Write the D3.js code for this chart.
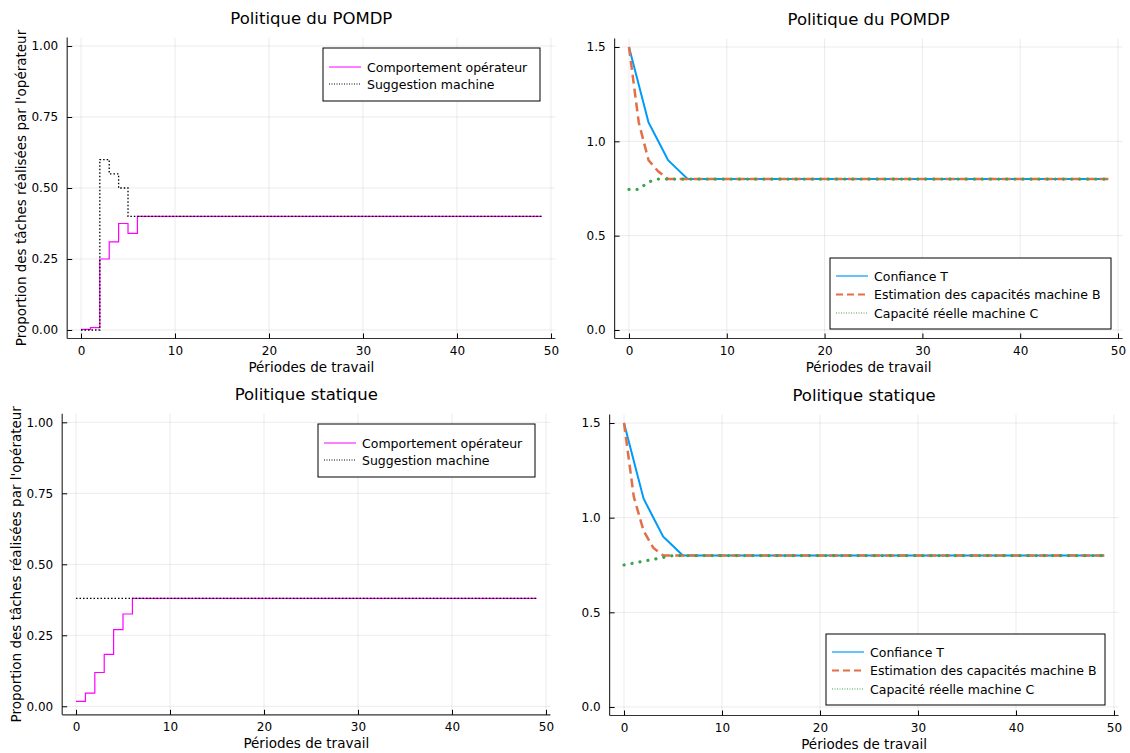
<!DOCTYPE html>
<html>
<head>
<meta charset="utf-8">
<script src="https://cdn.jsdelivr.net/npm/d3@7"></script>
<style>
  body { margin: 0; background: #fff; }
  svg { font-family: "DejaVu Sans", sans-serif; }
</style>
</head>
<body>
<div class="chart"></div>
<script>
// periods 0..49
var periods = [0,1,2,3,4,5,6,7,8,9,10,11,12,13,14,15,16,17,18,19,20,21,22,23,24,
  25,26,27,28,29,30,31,32,33,34,35,36,37,38,39,40,41,42,43,44,45,46,47,48,49];

// POMDP policy: operator behaviour and machine suggestion
var pomdpOperator = [0.002,0.008,0.25,0.31,0.375,0.34,0.4,0.4,0.4,0.4,0.4,0.4,0.4,0.4,0.4,0.4,0.4,0.4,0.4,0.4,
  0.4,0.4,0.4,0.4,0.4,0.4,0.4,0.4,0.4,0.4,0.4,0.4,0.4,0.4,0.4,0.4,0.4,0.4,0.4,0.4,0.4,0.4,0.4,0.4,0.4,0.4,0.4,0.4,0.4,0.4];
var pomdpSuggestion = [0,0,0.6,0.55,0.5,0.4,0.4,0.4,0.4,0.4,0.4,0.4,0.4,0.4,0.4,0.4,0.4,0.4,0.4,0.4,
  0.4,0.4,0.4,0.4,0.4,0.4,0.4,0.4,0.4,0.4,0.4,0.4,0.4,0.4,0.4,0.4,0.4,0.4,0.4,0.4,0.4,0.4,0.4,0.4,0.4,0.4,0.4,0.4,0.4,0.4];

// static policy
var staticOperator = [0.017,0.046,0.119,0.183,0.27,0.325,0.38,0.38,0.38,0.38,0.38,0.38,0.38,0.38,0.38,0.38,0.38,0.38,0.38,0.38,
  0.38,0.38,0.38,0.38,0.38,0.38,0.38,0.38,0.38,0.38,0.38,0.38,0.38,0.38,0.38,0.38,0.38,0.38,0.38,0.38,0.38,0.38,0.38,0.38,0.38,0.38,0.38,0.38,0.38,0.38];
var staticSuggestion = [0.38,0.38,0.38,0.38,0.38,0.38,0.38,0.38,0.38,0.38,0.38,0.38,0.38,0.38,0.38,0.38,0.38,0.38,0.38,0.38,
  0.38,0.38,0.38,0.38,0.38,0.38,0.38,0.38,0.38,0.38,0.38,0.38,0.38,0.38,0.38,0.38,0.38,0.38,0.38,0.38,0.38,0.38,0.38,0.38,0.38,0.38,0.38,0.38,0.38,0.38];

// trust T, estimated capacity B, real capacity C
var pomdpTrust = [1.5,1.3,1.1,1.0,0.9,0.85,0.8,0.8,0.8,0.8,0.8,0.8,0.8,0.8,0.8,0.8,0.8,0.8,0.8,0.8,
  0.8,0.8,0.8,0.8,0.8,0.8,0.8,0.8,0.8,0.8,0.8,0.8,0.8,0.8,0.8,0.8,0.8,0.8,0.8,0.8,0.8,0.8,0.8,0.8,0.8,0.8,0.8,0.8,0.8,0.8];
var pomdpEstim = [1.5,1.1,0.9,0.84,0.8,0.8,0.8,0.8,0.8,0.8,0.8,0.8,0.8,0.8,0.8,0.8,0.8,0.8,0.8,0.8,
  0.8,0.8,0.8,0.8,0.8,0.8,0.8,0.8,0.8,0.8,0.8,0.8,0.8,0.8,0.8,0.8,0.8,0.8,0.8,0.8,0.8,0.8,0.8,0.8,0.8,0.8,0.8,0.8,0.8,0.8];
var pomdpReal = [0.745,0.745,0.785,0.8,0.8,0.8,0.8,0.8,0.8,0.8,0.8,0.8,0.8,0.8,0.8,0.8,0.8,0.8,0.8,0.8,
  0.8,0.8,0.8,0.8,0.8,0.8,0.8,0.8,0.8,0.8,0.8,0.8,0.8,0.8,0.8,0.8,0.8,0.8,0.8,0.8,0.8,0.8,0.8,0.8,0.8,0.8,0.8,0.8,0.8,0.8];
var staticTrust = [1.5,1.3,1.1,1.0,0.9,0.85,0.8,0.8,0.8,0.8,0.8,0.8,0.8,0.8,0.8,0.8,0.8,0.8,0.8,0.8,
  0.8,0.8,0.8,0.8,0.8,0.8,0.8,0.8,0.8,0.8,0.8,0.8,0.8,0.8,0.8,0.8,0.8,0.8,0.8,0.8,0.8,0.8,0.8,0.8,0.8,0.8,0.8,0.8,0.8,0.8];
var staticEstim = [1.5,1.11,0.93,0.84,0.8,0.8,0.8,0.8,0.8,0.8,0.8,0.8,0.8,0.8,0.8,0.8,0.8,0.8,0.8,0.8,
  0.8,0.8,0.8,0.8,0.8,0.8,0.8,0.8,0.8,0.8,0.8,0.8,0.8,0.8,0.8,0.8,0.8,0.8,0.8,0.8,0.8,0.8,0.8,0.8,0.8,0.8,0.8,0.8,0.8,0.8];
var staticReal = [0.75,0.76,0.77,0.78,0.79,0.8,0.8,0.8,0.8,0.8,0.8,0.8,0.8,0.8,0.8,0.8,0.8,0.8,0.8,0.8,
  0.8,0.8,0.8,0.8,0.8,0.8,0.8,0.8,0.8,0.8,0.8,0.8,0.8,0.8,0.8,0.8,0.8,0.8,0.8,0.8,0.8,0.8,0.8,0.8,0.8,0.8,0.8,0.8,0.8,0.8];

var xTicks = [0,10,20,30,40,50];
var propTicks = [0,0.25,0.5,0.75,1];
var capTicks = [0,0.5,1,1.5];

var titles = ["Politique du POMDP", "Politique statique"];
var xLabel = "Périodes de travail";
var yLabel = "Proportion des tâches réalisées par l'opérateur";
var propNames = ["Comportement opérateur", "Suggestion machine"];
var capNames = ["Confiance T", "Estimation des capacités machine B", "Capacité réelle machine C"];

var svg = d3.select("div.chart").append("svg")
  .attr("width", 1130).attr("height", 753);

function drawPanel(p) {
  var x = d3.scaleLinear().domain([-1.47, 50.47]).range([p.left, p.right]);
  var y = d3.scaleLinear().domain(p.ydom).range([p.bottom, p.top]);
  var g = svg.append("g");

  // grid
  g.selectAll(".gx").data(xTicks).enter().append("line")
    .attr("x1", d => x(d)).attr("x2", d => x(d))
    .attr("y1", p.top).attr("y2", p.bottom)
    .attr("stroke", "#000").attr("stroke-opacity", 0.1).attr("stroke-width", 0.8);
  g.selectAll(".gy").data(p.yticks).enter().append("line")
    .attr("x1", p.left).attr("x2", p.right)
    .attr("y1", d => y(d)).attr("y2", d => y(d))
    .attr("stroke", "#000").attr("stroke-opacity", 0.1).attr("stroke-width", 0.8);

  // series
  p.series.forEach(function(s) {
    var line = d3.line().x((d, i) => x(periods[i])).y(d => y(d));
    if (s.step) line.curve(d3.curveStepAfter);
    g.append("path").datum(s.values)
      .attr("d", line).attr("fill", "none")
      .attr("stroke", s.color).attr("stroke-width", s.width)
      .attr("stroke-dasharray", s.dash || null)
      .attr("stroke-linecap", s.cap || "butt");
  });

  // axes (inward ticks)
  var xa = d3.axisBottom(x).tickValues(xTicks).tickSize(-5).tickPadding(8).tickFormat(d3.format("d"));
  var ya = d3.axisLeft(y).tickValues(p.yticks).tickSize(-5).tickPadding(9).tickFormat(d3.format(p.yfmt));
  var gx = g.append("g").attr("transform", "translate(0," + p.bottom + ")").call(xa);
  var gy = g.append("g").attr("transform", "translate(" + p.left + ",0)").call(ya);
  [gx, gy].forEach(function(a) {
    a.select(".domain").attr("d", a === gx ? "M" + p.left + ",0H" + p.right : "M0," + p.top + "V" + p.bottom)
      .attr("stroke", "#333").attr("stroke-width", 1.2);
    a.selectAll(".tick line").attr("stroke", "#000");
    a.selectAll(".tick text").attr("fill", "#000").attr("font-size", 12).attr("font-family", "DejaVu Sans");
  });

  // title & labels
  svg.append("text").attr("x", (p.left + p.right) / 2).attr("y", p.top - 14)
    .attr("text-anchor", "middle").attr("font-size", 16.5).text(p.title);
  svg.append("text").attr("x", (p.left + p.right) / 2).attr("y", p.bottom + 33)
    .attr("text-anchor", "middle").attr("font-size", 13.5).text(xLabel);
  if (p.ylab) {
    svg.append("text").attr("transform", "translate(" + p.ylabX + "," + (p.top + p.bottom) / 2 + ") rotate(-90)")
      .attr("text-anchor", "middle").attr("font-size", 13.5).text(yLabel);
  }

  // legend
  var L = p.legend;
  svg.append("rect").attr("x", L.x).attr("y", L.y).attr("width", L.w).attr("height", L.h)
    .attr("fill", "#fff").attr("stroke", "#000").attr("stroke-width", 1);
  p.series.forEach(function(s, i) {
    var ly = L.y + L.first + i * L.step;
    svg.append("line").attr("x1", L.x + 6).attr("x2", L.x + 38).attr("y1", ly).attr("y2", ly)
      .attr("stroke", s.color).attr("stroke-width", s.lw)
      .attr("stroke-dasharray", s.ldash || null);
    svg.append("text").attr("x", L.x + 44).attr("y", ly + 4.5)
      .attr("font-size", 12.5).text(s.name);
  });
}

function propSeries(op, sug) {
  return [
    {name: propNames[0], values: op, color: "#ff00ff", width: 1.2, step: true, lw: 1},
    {name: propNames[1], values: sug, color: "#000", width: 1.3, step: true, dash: "1.5,2", lw: 1, ldash: "1,1.5"}
  ];
}
function capSeries(t, b, c) {
  return [
    {name: capNames[0], values: t, color: "#009af9", width: 2, lw: 1.2},
    {name: capNames[1], values: b, color: "#e26f46", width: 2.5, dash: "9,5", lw: 2, ldash: "7,4"},
    {name: capNames[2], values: c, color: "#3da44d", width: 3.2, dash: "0.1,8", cap: "round", lw: 1, ldash: "1,1.5"}
  ];
}

drawPanel({left: 67.2, right: 555.4, top: 37.5, bottom: 338.5, ydom: [-0.03, 1.03],
  yticks: propTicks, yfmt: ".2f", title: titles[0], ylab: true, ylabX: 26,
  series: propSeries(pomdpOperator, pomdpSuggestion),
  legend: {x: 323, y: 48, w: 217, h: 53, first: 19, step: 17}});
drawPanel({left: 614.6, right: 1122.6, top: 38.5, bottom: 338.5, ydom: [-0.045, 1.545],
  yticks: capTicks, yfmt: ".1f", title: titles[0], ylab: false,
  series: capSeries(pomdpTrust, pomdpEstim, pomdpReal),
  legend: {x: 830, y: 258, w: 281, h: 71, first: 18, step: 18.5}});
drawPanel({left: 62.2, right: 550.4, top: 413.8, bottom: 714.8, ydom: [-0.03, 1.03],
  yticks: propTicks, yfmt: ".2f", title: titles[1], ylab: true, ylabX: 21,
  series: propSeries(staticOperator, staticSuggestion),
  legend: {x: 318, y: 424, w: 217, h: 53, first: 19, step: 17}});
drawPanel({left: 609.6, right: 1118.6, top: 414.5, bottom: 715.5, ydom: [-0.045, 1.545],
  yticks: capTicks, yfmt: ".1f", title: titles[1], ylab: false,
  series: capSeries(staticTrust, staticEstim, staticReal),
  legend: {x: 826, y: 634, w: 279, h: 71, first: 18, step: 18.5}});
</script>
</body>
</html>
